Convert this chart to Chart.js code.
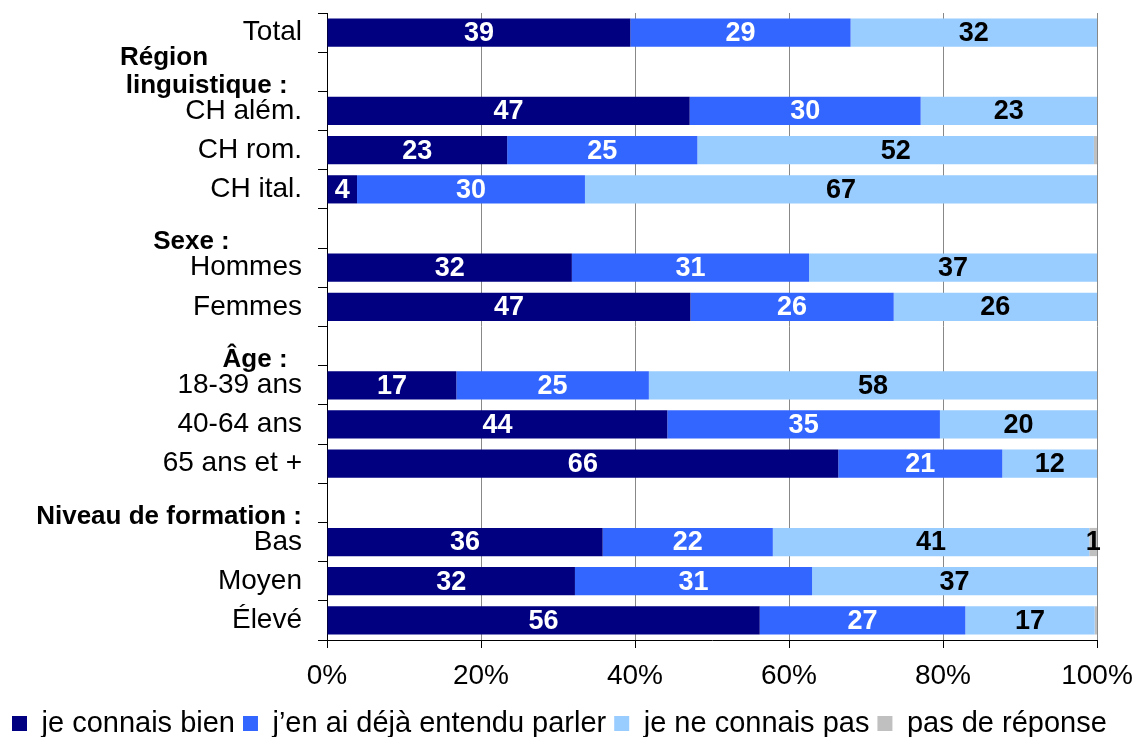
<!DOCTYPE html>
<html>
<head>
<meta charset="utf-8">
<script src="https://cdn.jsdelivr.net/npm/chart.js@4/dist/chart.umd.min.js"></script>
<style>
    html, body { margin: 0; padding: 0; background: #fff; }
    #wrap { width: 1136px; height: 737px; position: relative; }
</style>
</head>
<body>
<div id="wrap"><canvas id="knowChart"></canvas></div>
<script>
// Row labels (header rows carry trailing spaces, the way the original sheet does)
const categories = [
    'Total',
    ['Région             ', 'linguistique :  '],
    'CH além.', 'CH rom.', 'CH ital.',
    ['', 'Sexe :          '],
    'Hommes', 'Femmes',
    ['', 'Âge :  '],
    '18-39 ans', '40-64 ans', '65 ans et +',
    ['', 'Niveau de formation :'],
    'Bas', 'Moyen', 'Élevé'
];
const headerRows = [1, 5, 8, 12];

// Shares in %
const knowsWell = [39.4, null, 47.1, 23.4, 3.9, null, 31.8, 47.2, null, 16.8, 44.2, 66.4, null, 35.8, 32.2, 56.2];
const heardOf   = [28.6, null, 30.0, 24.7, 29.6, null, 30.8, 26.4, null, 25.0, 35.4, 21.3, null, 22.1, 30.8, 26.7];
const dontKnow  = [32.0, null, 22.9, 51.5, 66.5, null, 37.4, 26.4, null, 58.2, 20.4, 12.3, null, 41.1, 37.0, 16.8];
const noAnswer  = [0,    null, 0,    0.4,  0,    null, 0,    0,    null, 0,    0,    0,    null, 1.0,  0,    0.3];

const xTicks = [0, 20, 40, 60, 80, 100];

const FONT = '"Liberation Sans", Arial, sans-serif';

// Draws the rounded value in the middle of each segment
const segmentLabels = {
    id: 'segmentLabels',
    afterDatasetsDraw(chart) {
        const ctx = chart.ctx;
        ctx.save();
        ctx.font = 'bold 27px ' + FONT;
        ctx.textAlign = 'center';
        ctx.textBaseline = 'middle';
        chart.data.datasets.forEach((ds, di) => {
            const meta = chart.getDatasetMeta(di);
            meta.data.forEach((bar, i) => {
                const v = ds.data[i];
                if (v == null) return;
                const shown = Math.round(v);
                if (shown <= 0) return;
                const x = (bar.x + bar.base) / 2;
                ctx.fillStyle = ds.labelColor;
                ctx.fillText(String(shown), x, bar.y + 1);
            });
        });
        ctx.restore();
    }
};

new Chart(document.getElementById('knowChart'), {
    type: 'bar',
    data: {
        labels: categories,
        datasets: [
            { label: 'je connais bien', data: knowsWell, backgroundColor: '#000080', labelColor: '#fff' },
            { label: 'j\u2019en ai déjà entendu parler', data: heardOf, backgroundColor: '#3366FF', labelColor: '#fff' },
            { label: 'je ne connais pas', data: dontKnow, backgroundColor: '#99CCFF', labelColor: '#000' },
            { label: 'pas de réponse', data: noAnswer, backgroundColor: '#C0C0C0', labelColor: '#000' }
        ]
    },
    options: {
        indexAxis: 'y',
        responsive: true,
        maintainAspectRatio: false,
        animation: false,
        layout: { padding: { top: 0, right: 0, left: 4, bottom: -11 } },
        datasets: {
            bar: { barPercentage: 0.72, categoryPercentage: 1, borderWidth: 0 }
        },
        scales: {
            x: {
                stacked: true,
                min: 0,
                max: 100,
                afterBuildTicks: (scale) => { scale.ticks = xTicks.map(v => ({ value: v })); },
                afterFit: (scale) => {
                    scale.height = 61;
                    scale.paddingRight = 39;
                },
                ticks: {
                    callback: v => v + '%',
                    color: '#000',
                    font: { family: FONT, size: 28 },
                    padding: 11
                },
                grid: {
                    color: (c) => c.tick && c.tick.value === 0 ? 'rgba(0,0,0,0)' : '#888',
                    tickColor: '#000',
                    tickLength: 8,
                    lineWidth: 1
                },
                border: { color: '#000', width: 1 }
            },
            y: {
                stacked: true,
                afterFit: (scale) => {
                    scale.width = 323;
                    scale.paddingTop = 13;
                    scale.paddingBottom = 0;
                },
                ticks: {
                    color: '#000',
                    padding: 16,
                    autoSkip: false,
                    font: (c) => headerRows.includes(c.index)
                        ? { family: FONT, size: 26, weight: 'bold', lineHeight: 1.05 }
                        : { family: FONT, size: 28, lineHeight: 0.93 }
                },
                grid: {
                    offset: true,
                    drawOnChartArea: false,
                    tickColor: '#000',
                    tickLength: 9
                },
                border: { color: '#000', width: 1 }
            }
        },
        plugins: {
            legend: {
                position: 'bottom',
                align: 'start',
                labels: {
                    color: '#000',
                    font: { family: FONT, size: 29 },
                    boxWidth: 15,
                    boxHeight: 15,
                    padding: 8
                }
            },
            tooltip: { enabled: false }
        }
    },
    plugins: [segmentLabels]
});
</script>
</body>
</html>
